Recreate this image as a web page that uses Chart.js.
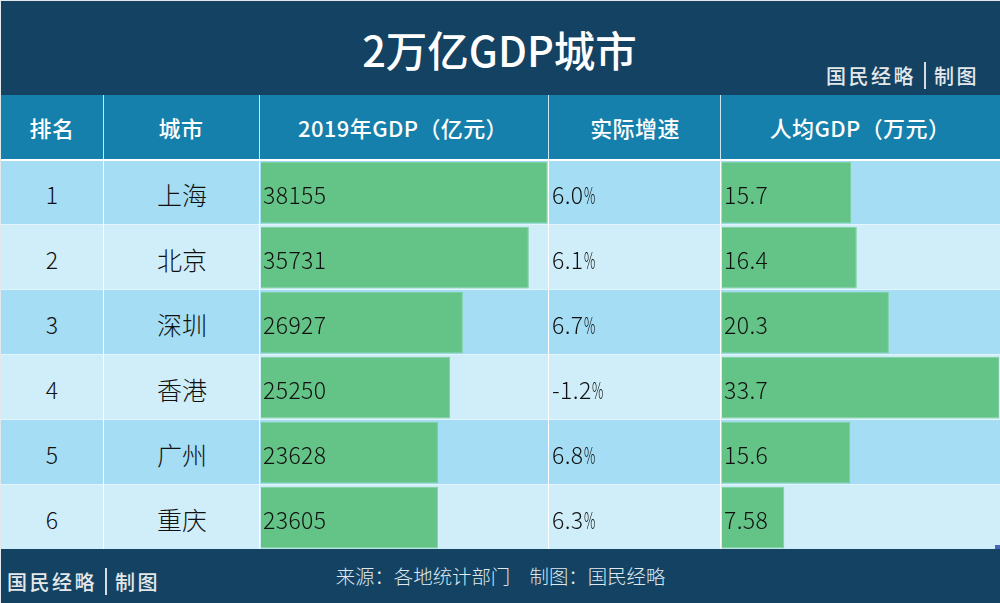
<!DOCTYPE html>
<html>
<head>
<meta charset="utf-8">
<script src="https://cdn.jsdelivr.net/npm/chart.js@4"></script>
<style>
  html, body { margin: 0; padding: 0; background: #e4e8ea; }
  #page { position: relative; width: 1000px; height: 603px; overflow: hidden; font-family: "Noto Sans CJK SC", sans-serif; }
  #page div, #page canvas { position: absolute; }
  .band { background: #134263; left: 1px; width: 999px; }
  .cell { white-space: nowrap; line-height: 1; }
  .center { transform: translateX(-50%); }
  .head { color: #fff; font-size: 22px; font-weight: 500; letter-spacing: 0.4px; }
  .body { color: #111; font-size: 23px; font-weight: 300; letter-spacing: 0.4px; }
  .cn { font-size: 25px; letter-spacing: 0; }
  .pct { display: inline-block; transform: scaleX(0.55); transform-origin: left; }
  .mark { color: #e4e8ea; font-weight: 500; font-size: 20px; letter-spacing: 2.5px; }
</style>
</head>
<body>
<div id="page">
  <div class="band" style="top:1px;height:94px"></div>
  <div style="left:1px;top:95px;width:999px;height:64px;background:#1580ab"></div>
  <div id="rows"></div>
  <div class="band" style="top:549px;height:54px"></div>
  <canvas id="gdpChart" width="286" height="390" style="left:261px;top:160px;width:286px;height:390px"></canvas>
  <canvas id="perCapitaChart" width="277" height="390" style="left:722px;top:160px;width:277px;height:390px"></canvas>
  <div id="labels"></div>
</div>
<script>
const title = '2万亿GDP城市';
const headers = ['排名', '城市', '2019年GDP（亿元）', '实际增速', '人均GDP（万元）'];
const ranks = ['1', '2', '3', '4', '5', '6'];
const cities = ['上海', '北京', '深圳', '香港', '广州', '重庆'];
const gdp = [38155, 35731, 26927, 25250, 23628, 23605];
const growth = [6.0, 6.1, 6.7, -1.2, 6.8, 6.3];
const perCapita = [15.7, 16.4, 20.3, 33.7, 15.6, 7.58];
const source = '来源：各地统计部门　制图：国民经略';
const markName = '国民经略';
const markMade = '制图';

const rows = document.getElementById('rows');
const labels = document.getElementById('labels');
const columnLines = [103, 259, 548, 720];
const headCenters = [52, 181, 403, 635, 860];

function addBox(parent, left, top, width, height, color) {
  const box = document.createElement('div');
  box.style.cssText = `left:${left}px;top:${top}px;width:${width}px;height:${height}px;background:${color}`;
  parent.appendChild(box);
}

function addText(text, className, left, top, extra) {
  const el = document.createElement('div');
  el.className = 'cell ' + className;
  el.textContent = text;
  el.style.left = left + 'px';
  el.style.top = top + 'px';
  if (extra) el.style.cssText += extra;
  labels.appendChild(el);
  return el;
}

function addMark(left, top) {
  addText(markName, 'mark', left, top);
  addBox(labels, left + 98, top - 4, 2, 27, '#d5dde3');
  addText(markMade, 'mark', left + 108, top);
}

ranks.forEach((rank, i) => {
  const top = 160 + i * 65;
  addBox(rows, 1, top, 999, 65, i % 2 ? '#d0eefa' : '#a4ddf4');
  addBox(rows, 1, top + 64, 999, 1, '#e2f5fc');
});
addBox(rows, 1, 159, 999, 2, '#ffffff');
columnLines.forEach(x => {
  addBox(rows, x, 95, 1, 64, '#cfe6f0');
  addBox(rows, x, 161, 1, 389, '#ffffff');
});
addBox(rows, 995, 545, 5, 4, '#4a68b8');

function barChart(id, values) {
  return new Chart(document.getElementById(id), {
    type: 'bar',
    data: {
      labels: cities,
      datasets: [{
        data: values,
        backgroundColor: '#64c386',
        borderColor: '#7ccf9c',
        borderWidth: 1,
        barPercentage: 0.95,
        categoryPercentage: 1
      }]
    },
    options: {
      indexAxis: 'y',
      responsive: false,
      animation: false,
      devicePixelRatio: 1,
      layout: { padding: 0 },
      plugins: { legend: { display: false }, tooltip: { enabled: false } },
      scales: {
        x: { display: false, min: 0, max: Math.max(...values) },
        y: { display: false }
      }
    }
  });
}

barChart('gdpChart', gdp);
barChart('perCapitaChart', perCapita);

addText(title, 'center', 499.5, 29, 'color:#fff;font-size:41.5px;font-weight:500;');
addMark(826, 66);
addMark(7, 572);
addText(source, 'center', 500.5, 566, 'color:#dfe8ee;font-size:19.4px;font-weight:300;');

headers.forEach((h, i) => addText(h, 'head center', headCenters[i], 116));

ranks.forEach((rank, i) => {
  const top = 183 + i * 65;
  addText(rank, 'body center', 52, top);
  addText(cities[i], 'body cn center', 182, top - 1);
  addText(String(gdp[i]), 'body', 263, top);
  const rate = addText(growth[i].toFixed(1), 'body', 552, top);
  const pct = document.createElement('span');
  pct.className = 'pct';
  pct.textContent = '%';
  rate.appendChild(pct);
  addText(String(perCapita[i]), 'body', 724, top);
});
</script>
</body>
</html>
